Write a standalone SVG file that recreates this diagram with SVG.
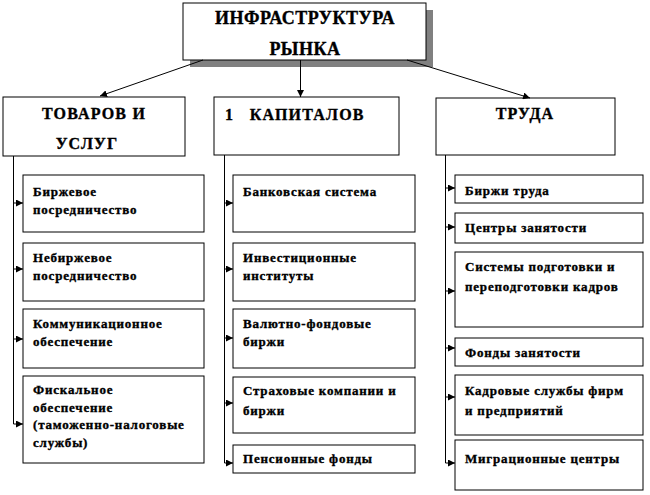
<svg xmlns="http://www.w3.org/2000/svg" width="650" height="495" viewBox="0 0 650 495">
<defs>
<marker id="ah" viewBox="0 0 10 10" refX="10" refY="5" markerWidth="7" markerHeight="7" markerUnits="userSpaceOnUse" orient="auto">
<path d="M0,0 L10,5 L0,10 z" fill="#000"/>
</marker>
</defs>
<style>
rect.b{fill:#fff;stroke:#000;stroke-width:1}
text{font-family:"Liberation Serif","Times New Roman",serif;font-weight:bold;fill:#000;stroke:#000;stroke-width:0.35px}
.h{font-size:18px;letter-spacing:0.5px}
.m{font-size:16px;letter-spacing:1.2px}
.t{font-size:13px;letter-spacing:0.8px}
.c line,.c path{stroke:#000;stroke-width:1;fill:none}
</style>
<rect width="650" height="495" fill="#fff"/>

<g id="root">
<rect x="190" y="10" width="243" height="57" fill="#808080"/>
<rect class="b" x="183" y="3" width="243" height="57"/>
<text class="h" x="305" y="24" text-anchor="middle">ИНФРАСТРУКТУРА</text>
<text class="h" x="305" y="55" text-anchor="middle">РЫНКА</text>
</g>

<g id="goods">
<rect class="b" x="3" y="97" width="182" height="59"/>
<text class="m" x="94" y="119" text-anchor="middle">ТОВАРОВ И</text>
<text class="m" x="87" y="149" text-anchor="middle">УСЛУГ</text>
</g>
<g id="capital">
<rect class="b" x="214" y="97" width="185" height="58"/>
<text class="m" x="225" y="120" xml:space="preserve">1   КАПИТАЛОВ</text>
</g>
<g id="labor">
<rect class="b" x="436" y="98" width="179" height="57"/>
<text class="m" x="525" y="119" text-anchor="middle">ТРУДА</text>
</g>

<g id="g1"><rect class="b" x="23" y="175" width="181" height="57"/>
<text class="t" x="33" y="196">Биржевое</text><text class="t" x="33" y="214">посредничество</text></g>
<g id="g2"><rect class="b" x="23" y="243" width="181" height="58"/>
<text class="t" x="33" y="262">Небиржевое</text><text class="t" x="33" y="280">посредничество</text></g>
<g id="g3"><rect class="b" x="23" y="309" width="181" height="59"/>
<text class="t" x="33" y="328">Коммуникационное</text><text class="t" x="33" y="346">обеспечение</text></g>
<g id="g4"><rect class="b" x="23" y="376" width="181" height="87"/>
<text class="t" x="33" y="394">Фискальное</text><text class="t" x="33" y="412">обеспечение</text>
<text class="t" x="33" y="429">(таможенно-налоговые</text><text class="t" x="33" y="447">службы)</text></g>

<g id="k1"><rect class="b" x="233" y="175" width="182" height="57"/>
<text class="t" x="243" y="196">Банковская  система</text></g>
<g id="k2"><rect class="b" x="233" y="243" width="182" height="58"/>
<text class="t" x="243" y="262">Инвестиционные</text><text class="t" x="243" y="280">институты</text></g>
<g id="k3"><rect class="b" x="233" y="309" width="182" height="59"/>
<text class="t" x="243" y="328">Валютно-фондовые</text><text class="t" x="243" y="346">биржи</text></g>
<g id="k4"><rect class="b" x="233" y="377" width="182" height="56"/>
<text class="t" x="243" y="395">Страховые компании и</text><text class="t" x="243" y="415">биржи</text></g>
<g id="k5"><rect class="b" x="233" y="445" width="182" height="28"/>
<text class="t" x="243" y="463">Пенсионные фонды</text></g>

<g id="l1"><rect class="b" x="455" y="175" width="188" height="28"/>
<text class="t" x="465" y="195">Биржи труда</text></g>
<g id="l2"><rect class="b" x="455" y="213" width="188" height="30"/>
<text class="t" x="465" y="232">Центры занятости</text></g>
<g id="l3"><rect class="b" x="455" y="252" width="188" height="75"/>
<text class="t" x="465" y="271">Системы подготовки и</text><text class="t" x="465" y="291">переподготовки кадров</text></g>
<g id="l4"><rect class="b" x="455" y="338" width="188" height="28"/>
<text class="t" x="465" y="357">Фонды занятости</text></g>
<g id="l5"><rect class="b" x="455" y="375" width="188" height="60"/>
<text class="t" x="465" y="395">Кадровые службы  фирм</text><text class="t" x="465" y="415">и предприятий</text></g>
<g id="l6"><rect class="b" x="455" y="440" width="188" height="50"/>
<text class="t" x="465" y="463">Миграционные центры</text></g>

<g id="connectors" class="c">
<line x1="203" y1="60" x2="100" y2="96" marker-end="url(#ah)"/>
<line x1="300.5" y1="60" x2="300.5" y2="97" marker-end="url(#ah)"/>
<line x1="407" y1="60" x2="530" y2="98" marker-end="url(#ah)"/>

<line x1="13.5" y1="156" x2="13.5" y2="424"/>
<line x1="13.5" y1="203" x2="23" y2="203" marker-end="url(#ah)"/>
<line x1="13.5" y1="269" x2="23" y2="269" marker-end="url(#ah)"/>
<line x1="13.5" y1="339" x2="23" y2="339" marker-end="url(#ah)"/>
<line x1="13.5" y1="424" x2="23" y2="424" marker-end="url(#ah)"/>

<line x1="224.5" y1="155" x2="224.5" y2="463"/>
<line x1="224.5" y1="203" x2="233" y2="203" marker-end="url(#ah)"/>
<line x1="224.5" y1="269" x2="233" y2="269" marker-end="url(#ah)"/>
<line x1="224.5" y1="338" x2="233" y2="338" marker-end="url(#ah)"/>
<line x1="224.5" y1="403" x2="233" y2="403" marker-end="url(#ah)"/>
<line x1="224.5" y1="463" x2="233" y2="463" marker-end="url(#ah)"/>

<line x1="445.5" y1="155" x2="445.5" y2="463"/>
<line x1="445.5" y1="188" x2="455" y2="188" marker-end="url(#ah)"/>
<line x1="445.5" y1="227" x2="455" y2="227" marker-end="url(#ah)"/>
<line x1="445.5" y1="291" x2="455" y2="291" marker-end="url(#ah)"/>
<line x1="445.5" y1="348" x2="455" y2="348" marker-end="url(#ah)"/>
<line x1="445.5" y1="397" x2="455" y2="397" marker-end="url(#ah)"/>
<line x1="445.5" y1="463" x2="455" y2="463" marker-end="url(#ah)"/>
</g>
</svg>
